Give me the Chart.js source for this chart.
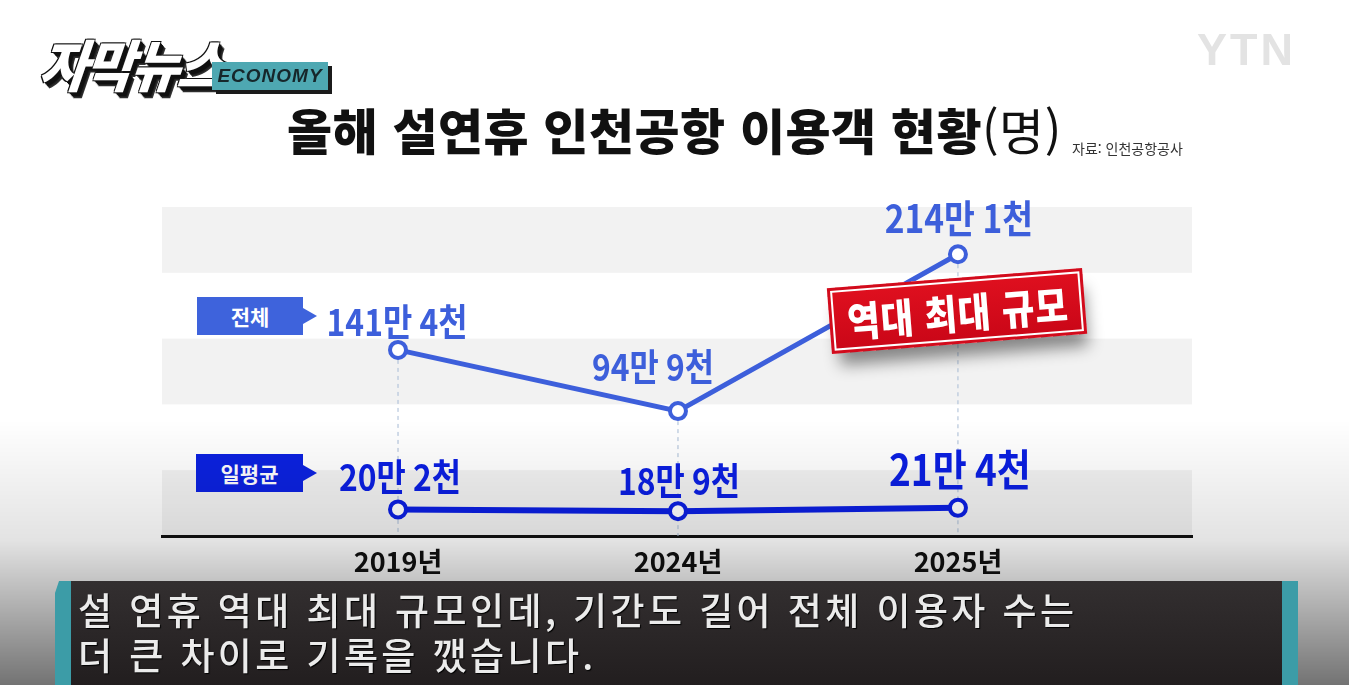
<!DOCTYPE html>
<html lang="ko">
<head>
<meta charset="utf-8">
<script src="https://cdn.jsdelivr.net/npm/chart.js@4.4.1/dist/chart.umd.min.js"></script>
<style>
html, body { margin: 0; padding: 0; background: #fff; }
#wrap { position: relative; width: 1349px; height: 685px; overflow: hidden; font-family: "Noto Sans CJK KR", sans-serif; background: #fff; }
#chartBox { position: absolute; left: 0; top: 0; width: 1349px; height: 685px; }
.abs { position: absolute; white-space: nowrap; }
#logo { left: 44px; top: 22px; font-size: 56px; font-weight: 900; color: #fff; font-style: italic; letter-spacing: -3px;
  transform: skewX(-6deg) scaleX(0.95); transform-origin: left top;
  text-shadow: 1px 1px 0 #111, 2px 2px 0 #111, 3px 3px 0 #111, 4px 4px 0 #111, 5px 5px 0 #222, 6px 6px 0 #333, -1px -1px 0 #111, 1px -1px 0 #111, -1px 1px 0 #111; }
#eco { left: 212px; top: 62px; width: 116px; height: 28px; background: #4ea8b2; color: #16272b; font: italic 700 19px "Liberation Sans", sans-serif;
  text-align: center; line-height: 28px; letter-spacing: 1px; box-shadow: 4px 4px 0 #1b1b1b; }
#ytn { left: 1197px; top: 24px; font: 700 45px "Liberation Sans", sans-serif; color: #e3e3e3; letter-spacing: 3px; }
#title { left: 287px; top: 93px; font-size: 49px; font-weight: 900; color: #111; letter-spacing: 0.5px; }
#title span { font-weight: 400; }
#src { left: 1072px; top: 138px; font-size: 14px; color: #333; }
.tag { height: 38px; line-height: 38px; color: #fff; font-size: 21px; font-weight: 700; text-align: center; }
.tag:after { content: ""; position: absolute; right: -14px; top: 11px; border-left: 14px solid; border-top: 8px solid transparent; border-bottom: 8px solid transparent; }
#tagTotal { left: 197px; top: 297px; width: 106px; background: #3e63dc; }
#tagTotal:after { border-left-color: #3e63dc; }
#tagDaily { left: 196px; top: 454px; width: 107px; background: #0c22e0; }
#tagDaily:after { border-left-color: #0c22e0; }
#badge { left: 829px; top: 278px; width: 256px; height: 66px; transform: rotate(-4.5deg); background: linear-gradient(#e0101f, #c90617);
  box-shadow: inset 0 0 0 3px #d20b1c, inset 0 0 0 5px #fff, 4px 16px 16px -4px rgba(0,0,0,0.45); text-align: center; }
#badge span { display: inline-block; color: #fff; font-size: 41px; font-weight: 900; line-height: 66px; transform: scaleX(0.86); letter-spacing: 1px; }
#shade { left: 0; top: 0; width: 1349px; height: 685px; pointer-events: none;
  background: linear-gradient(to bottom, rgba(0,0,0,0) 0px, rgba(0,0,0,0) 420px, rgba(0,0,0,0.11) 540px, rgba(0,0,0,0.55) 685px); }
#capL { left: 55px; top: 581px; width: 16px; height: 104px; background: #3c9ca7; clip-path: polygon(4px 0, 100% 0, 100% 100%, 0 100%, 0 12px); }
#capR { left: 1282px; top: 581px; width: 16px; height: 104px; background: #3c9ca7; }
#cap { left: 71px; top: 581px; width: 1211px; height: 104px; background: linear-gradient(#332f30, #221e1f); }
#capText { left: 78px; top: 587px; font-size: 37px; font-weight: 500; color: #ebebeb; letter-spacing: 3.4px; line-height: 45px; text-shadow: 1px 1px 1px #000; }
</style>
</head>
<body>
<div id="wrap">
  <div id="chartBox"><canvas id="airportChart"></canvas></div>
  <div class="abs" id="logo">자막뉴스</div>
  <div class="abs" id="eco">ECONOMY</div>
  <div class="abs" id="ytn">YTN</div>
  <div class="abs" id="title">올해 설연휴 인천공항 이용객 현황<span>(명)</span></div>
  <div class="abs" id="src">자료: 인천공항공사</div>
  <div class="abs tag" id="tagTotal">전체</div>
  <div class="abs tag" id="tagDaily">일평균</div>
  <div class="abs" id="badge"><span>역대 최대 규모</span></div>
  <div class="abs" id="shade"></div>
  <div class="abs" id="capL"></div>
  <div class="abs" id="cap"></div>
  <div class="abs" id="capR"></div>
  <div class="abs" id="capText">설 연휴 역대 최대 규모인데, 기간도 길어 전체 이용자 수는<br>더 큰 차이로 기록을 깼습니다.</div>
</div>
<script>
// values in 만 명 (10,000 people)
var years = ['2019년', '2024년', '2025년'];
var totalValues = [141.4, 94.9, 214.1];
var dailyValues = [20.2, 18.9, 21.4];
var totalLabels = ['141만 4천', '94만 9천', '214만 1천'];
var dailyLabels = ['20만 2천', '18만 9천', '21만 4천'];

var totalColor = '#3d5fdb';
var dailyColor = '#0b1fe2';

// label placement relative to each point: [dx, dy, font size]
var totalLabelPos = [[-1, -14, 37], [-25, -30, 37], [1, -21, 39]];
var dailyLabelPos = [[2, -18, 37], [1, -16, 37], [2, -22, 43]];

function toPoints(values) {
    return values.map(function (v, i) { return { x: i, y: v }; });
}

var bandPlugin = {
    id: 'bands',
    beforeDraw: function (chart) {
        var ctx = chart.ctx, area = chart.chartArea, y = chart.scales.y;
        ctx.save();
        ctx.fillStyle = '#f2f2f2';
        [[0, 50], [100, 150], [200, 250]].forEach(function (b) {
            var top = y.getPixelForValue(b[1]);
            var bottom = y.getPixelForValue(b[0]);
            ctx.fillRect(area.left, top, area.right - area.left, bottom - top);
        });
        ctx.restore();
    }
};

var dashPlugin = {
    id: 'dropLines',
    beforeDatasetsDraw: function (chart) {
        var ctx = chart.ctx, area = chart.chartArea;
        var meta = chart.getDatasetMeta(0);
        ctx.save();
        ctx.strokeStyle = '#a8bcd6';
        ctx.lineWidth = 1;
        ctx.setLineDash([4, 4]);
        meta.data.forEach(function (p) {
            ctx.beginPath();
            ctx.moveTo(p.x, p.y + 10);
            ctx.lineTo(p.x, area.bottom);
            ctx.stroke();
        });
        ctx.restore();
    }
};

var labelPlugin = {
    id: 'valueLabels',
    afterDatasetsDraw: function (chart) {
        var ctx = chart.ctx;
        var sets = [[0, totalLabels, totalLabelPos, totalColor], [1, dailyLabels, dailyLabelPos, dailyColor]];
        ctx.save();
        ctx.textAlign = 'center';
        ctx.textBaseline = 'alphabetic';
        sets.forEach(function (s) {
            var meta = chart.getDatasetMeta(s[0]);
            meta.data.forEach(function (p, i) {
                var pos = s[2][i];
                ctx.save();
                ctx.translate(p.x + pos[0], p.y + pos[1]);
                ctx.scale(0.86, 1);
                ctx.font = '700 ' + pos[2] + 'px "Noto Sans CJK KR"';
                ctx.fillStyle = s[3];
                ctx.fillText(s[1][i], 0, 0);
                ctx.restore();
            });
        });
        ctx.restore();
    }
};

var ctx = document.getElementById('airportChart').getContext('2d');
var airportChart = new Chart(ctx, {
    type: 'line',
    data: {
        datasets: [{
            label: '전체',
            data: toPoints(totalValues),
            borderColor: totalColor,
            borderWidth: 5,
            pointRadius: 8,
            pointBorderWidth: 4,
            pointBackgroundColor: '#fff',
            pointBorderColor: totalColor,
            clip: false
        }, {
            label: '일평균',
            data: toPoints(dailyValues),
            borderColor: dailyColor,
            borderWidth: 6,
            pointRadius: 8,
            pointBorderWidth: 4,
            pointBackgroundColor: '#fff',
            pointBorderColor: dailyColor,
            clip: false
        }]
    },
    options: {
        responsive: true,
        maintainAspectRatio: false,
        animation: false,
        layout: {
            padding: { left: 162, right: 157, top: 207, bottom: 104 }
        },
        plugins: {
            legend: { display: false },
            tooltip: { enabled: false }
        },
        scales: {
            x: {
                type: 'linear',
                min: -0.843,
                max: 2.836,
                grid: { display: false, drawTicks: false },
                border: { display: true, color: '#111', width: 3 },
                afterBuildTicks: function (axis) {
                    axis.ticks = years.map(function (_, i) { return { value: i }; });
                },
                afterFit: function (axis) { axis.height = 45; },
                ticks: {
                    autoSkip: false,
                    maxRotation: 0,
                    padding: 10,
                    color: '#111',
                    font: { family: '"Noto Sans CJK KR"', size: 27, weight: '700' },
                    callback: function (value) { return years[value]; }
                }
            },
            y: {
                display: false,
                min: 0,
                max: 250
            }
        }
    },
    plugins: [bandPlugin, dashPlugin, labelPlugin]
});
</script>
</body>
</html>
